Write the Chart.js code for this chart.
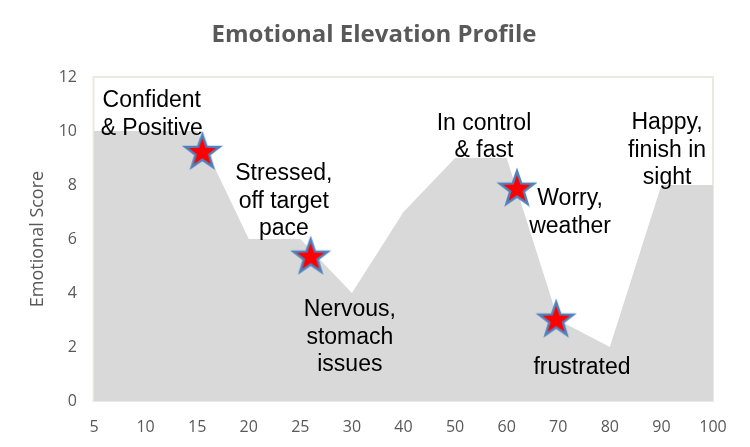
<!DOCTYPE html>
<html><head><meta charset="utf-8">
<script src="https://cdn.jsdelivr.net/npm/chart.js@4/dist/chart.umd.min.js"></script>
<style>html,body{margin:0;padding:0;background:#fff;}</style>
</head><body>
<canvas id="c" width="750" height="447"></canvas>
<script>
// ---- data ----
const chartTitle = 'Emotional Elevation Profile';
const categories = ['5','10','15','20','25','30','40','50','60','70','80','90','100'];
const scores = [10, 10, 10, 6, 6, 4, 7, 9, 9, 3, 2, 8, 8];
const yTicks = [0, 2, 4, 6, 8, 10, 12];
// star markers: position along the category axis (index units) and score
const starPos = [2.1, 4.2, 8.2, 8.96];
const starScores = [9.26, 5.38, 7.9, 3.05];
// annotations: text lines, anchor position (index units) and score
const noteTexts = [
  ['Confident', '& Positive'],
  ['Stressed,', 'off target', 'pace'],
  ['In control', '& fast'],
  ['Happy,', 'finish in', 'sight'],
  ['Worry,', 'weather'],
  ['Nervous,', 'stomach', 'issues'],
  ['frustrated']
];
const notePos = [1.12, 3.68, 7.56, 11.11, 9.23, 4.96, 9.46];
const noteScores = [10.6, 7.39, 9.78, 9.28, 6.98, 2.35, 1.24];

// ---- star image ----
function makeStar() {
  const R = 18, r = 7.2, s = 2 * R + 6;
  const c = document.createElement('canvas');
  c.width = s; c.height = s;
  const g = c.getContext('2d');
  g.translate(s / 2, s / 2 + 1.5);
  g.beginPath();
  for (let k = 0; k < 10; k++) {
    const rad = k % 2 === 0 ? R : r;
    const a = -Math.PI / 2 + k * Math.PI / 5;
    const px = rad * Math.cos(a), py = rad * Math.sin(a);
    if (k === 0) g.moveTo(px, py); else g.lineTo(px, py);
  }
  g.closePath();
  g.fillStyle = '#FF0000';
  g.fill();
  g.lineWidth = 2.4;
  g.strokeStyle = '#4F81BD';
  g.lineJoin = 'miter';
  g.stroke();
  return c;
}
const starImg = makeStar();

const plotDeco = {
  id: 'plotDeco',
  beforeDatasetsDraw(chart) {
    const {ctx, chartArea: a} = chart;
    ctx.save();
    ctx.strokeStyle = '#ECEAE0';
    ctx.lineWidth = 2;
    ctx.strokeRect(a.left - 0.5, a.top, a.right - a.left + 0.5, a.bottom - a.top);
    ctx.restore();
  },
  afterDatasetsDraw(chart) {
    const {ctx, scales: {x, y}} = chart;
    ctx.save();
    ctx.font = '23px "Liberation Sans", Arial, sans-serif';
    ctx.fillStyle = '#000';
    ctx.textAlign = 'center';
    ctx.textBaseline = 'middle';
    const lh = 27.5;
    noteTexts.forEach((lines, i) => {
      const cx = x.getPixelForValue(notePos[i]);
      const cy = y.getPixelForValue(noteScores[i]);
      const y0 = cy - (lines.length - 1) * lh / 2;
      lines.forEach((t, j) => ctx.fillText(t, cx, y0 + j * lh));
    });
    // chart title, centred on the page
    ctx.font = 'bold 24px "Open Sans", sans-serif';
    ctx.fillStyle = '#595959';
    ctx.fillText(chartTitle, chart.width / 2 - 1, 35);
    ctx.restore();
  }
};

const tickFont = {family: '"Open Sans", sans-serif', size: 16};

new Chart(document.getElementById('c'), {
  type: 'line',
  data: {
    datasets: [
      {
        type: 'scatter',
        data: starPos.map((v, i) => ({x: v, y: starScores[i]})),
        pointStyle: starImg,
        pointRadius: 18,
        showLine: false
      },
      {
        data: scores.map((v, i) => ({x: i, y: v})),
        fill: 'origin',
        backgroundColor: '#D9D9D9',
        borderWidth: 0,
        pointRadius: 0,
        tension: 0
      }
    ]
  },
  options: {
    responsive: false,
    animation: false,
    events: [],
    layout: {padding: {left: 0, right: 37, top: 77, bottom: 0}},
    plugins: {
      legend: {display: false},
      tooltip: {enabled: false},
      title: {display: false}
    },
    scales: {
      x: {
        type: 'linear',
        min: 0, max: categories.length - 1,
        afterFit(s) { s.height = 46; },
        afterBuildTicks(s) { s.ticks = categories.map((c, i) => ({value: i})); },
        ticks: {
          autoSkip: false, maxRotation: 0,
          callback: v => categories[v],
          color: '#595959', font: tickFont, padding: 17
        },
        grid: {display: false, drawTicks: false},
        border: {display: false}
      },
      y: {
        min: 0, max: 12,
        afterFit(s) { s.width = 94; },
        afterBuildTicks(s) { s.ticks = yTicks.map(v => ({value: v})); },
        ticks: {color: '#595959', font: tickFont, padding: 17},
        grid: {display: false, drawTicks: false},
        border: {display: false},
        title: {
          display: true,
          text: 'Emotional Score',
          color: '#595959',
          font: {family: '"Open Sans", sans-serif', size: 18},
          padding: {top: 27, bottom: 0}
        }
      }
    }
  },
  plugins: [plotDeco]
});
</script>
</body></html>
